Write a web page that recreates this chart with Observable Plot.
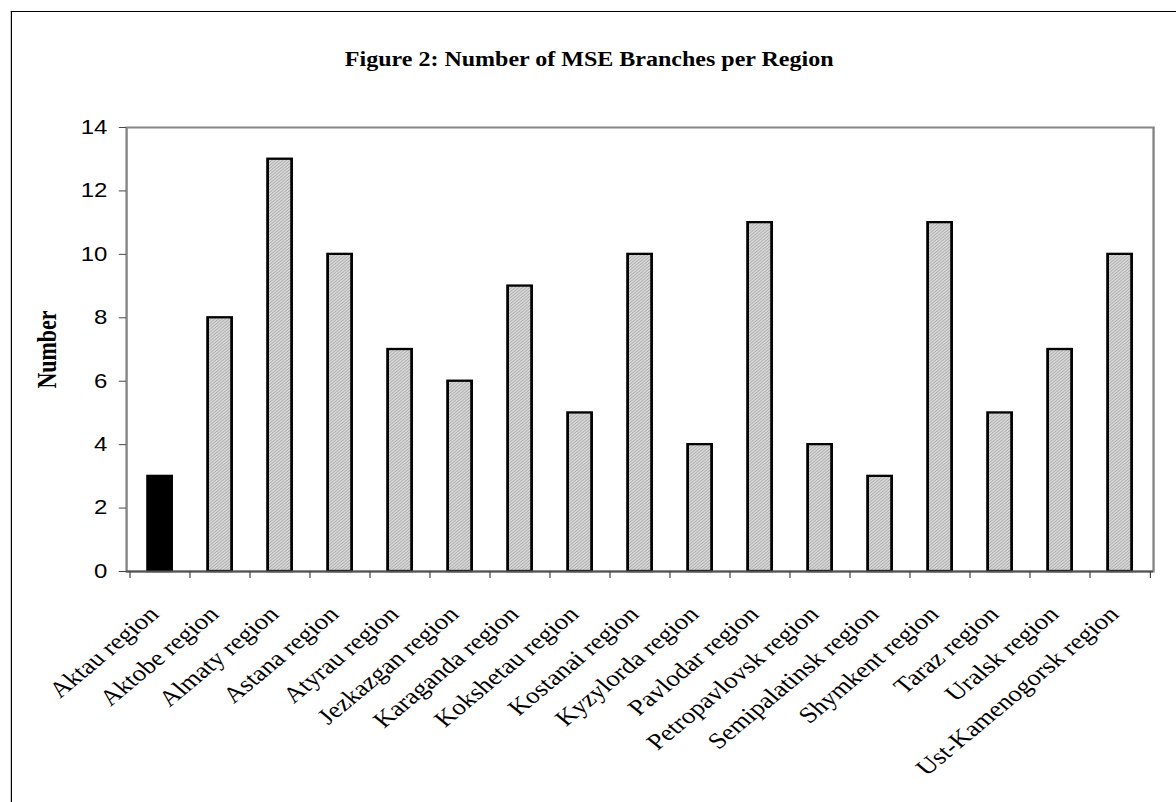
<!DOCTYPE html>
<html><head><meta charset="utf-8">
<script src="https://cdn.jsdelivr.net/npm/d3@7"></script>
<script src="https://cdn.jsdelivr.net/npm/@observablehq/plot@0.6"></script>
<style>
html,body{margin:0;padding:0;background:#fff;overflow:hidden;width:1176px;height:802px;}
#page{position:absolute;left:0;top:0;width:980px;height:802px;transform:scaleX(1.2);transform-origin:0 0;}
#border{position:absolute;left:9px;top:11px;width:1200px;height:1200px;border-left:1.6px solid #000;border-top:1.8px solid #000;}
#title{position:absolute;left:0;width:982px;top:49px;text-align:center;font:bold 20px/20px "Liberation Serif","Times New Roman",serif;color:#000;}
#chart{position:absolute;left:0;top:0;}
</style></head>
<body><div id="page"><div id="border"></div><div id="title"></div><div id="chart"></div></div>
<script>
const titleText = "Figure 2: Number of MSE Branches per Region";
const yLabel = "Number";
const regions = ["Aktau region","Aktobe region","Almaty region","Astana region","Atyrau region","Jezkazgan region","Karaganda region","Kokshetau region","Kostanai region","Kyzylorda region","Pavlodar region","Petropavlovsk region","Semipalatinsk region","Shymkent region","Taraz region","Uralsk region","Ust-Kamenogorsk region"];
const branches = [3,8,13,10,7,6,9,5,10,4,11,4,3,11,5,7,10];
const highlighted = "Aktau region";
const yTicks = [0,2,4,6,8,10,12,14];

const data = regions.map((r,i)=>({region:r, value:branches[i]}));
document.getElementById("title").textContent = titleText;

const W = 980, H = 802, ml = 105, mr = 19.2, mt = 127, mb = 231;
const step = (W - ml - mr) / regions.length;

const chart = Plot.plot({
  width: W, height: H,
  marginLeft: ml, marginRight: mr, marginTop: mt, marginBottom: mb,
  style: {background: "transparent", overflow: "visible", fontFamily: "'Liberation Sans', Arial, sans-serif", color: "#000"},
  x: {domain: regions, paddingInner: 0.6, paddingOuter: 0.3, axis: null},
  y: {domain: [0,14], axis: null},
  marks: [
    Plot.frame({stroke: "#868686", strokeWidth: 2}),
    Plot.barY(data, {x: "region", y: "value", fill: d => d.region === highlighted ? "#000" : "url(#hatch)", stroke: "#000", strokeWidth: 2.3}),
    Plot.ruleY([0], {stroke: "#555", strokeWidth: 2}),
    Plot.axisY({ticks: yTicks, tickSize: 6, tickPadding: 10, fontSize: 20, label: null, stroke: "#444", fill: "#000", tickFormat: d => String(d)}),
    Plot.axisX({ticks: regions, tickSize: 7, text: null, label: null, dx: -step/2, stroke: "#444"}),
    Plot.axisX({ticks: [regions[regions.length-1]], tickSize: 7, text: null, label: null, dx: step/2, stroke: "#444"}),
    Plot.text(regions, {x: d => d, frameAnchor: "bottom", dy: 44, rotate: -45, textAnchor: "end", lineAnchor: "bottom", fontSize: 22.5, fontFamily: "'Liberation Serif','Times New Roman',serif", fill: "#000"}),
    Plot.text([yLabel], {frameAnchor: "left", dx: -66, rotate: -90, textAnchor: "middle", fontSize: 22, fontWeight: "bold", fontFamily: "'Liberation Serif','Times New Roman',serif", fill: "#000"})
  ]
});

const svg = d3.select(chart);
const defs = svg.insert("defs", ":first-child");
const pat = defs.append("pattern").attr("id","hatch").attr("patternUnits","userSpaceOnUse").attr("width",3).attr("height",3);
pat.append("rect").attr("width",3).attr("height",3).attr("fill","#d8d8d8");
pat.append("path").attr("d","M-1,1 L1,-1 M0,3 L3,0 M2,4 L4,2").attr("stroke","#9c9c9c").attr("stroke-width",0.7);
document.getElementById("chart").appendChild(chart);
</script>
</body></html>
